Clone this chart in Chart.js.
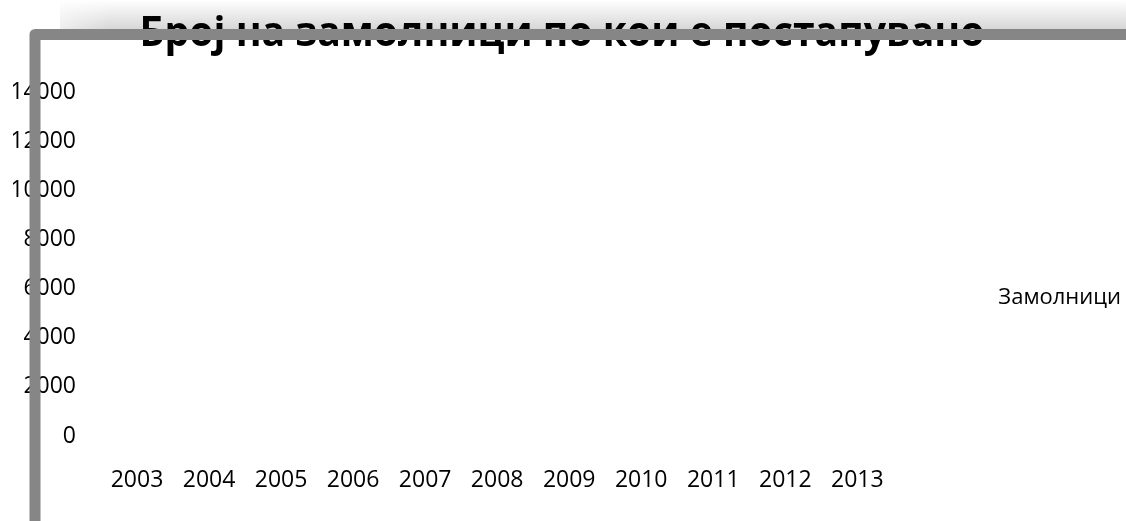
<!DOCTYPE html>
<html>
<head>
<meta charset="utf-8">
<script src="https://cdn.jsdelivr.net/npm/chart.js@4/dist/chart.umd.min.js"></script>
<style>
html,body{margin:0;padding:0;background:#fff;}
#wrap{width:1126px;height:521px;position:relative;}
</style>
</head>
<body>
<div id="wrap"><canvas id="c" width="1126" height="521"></canvas></div>
<script>
// Data (no bars are visible in the reference, so values are unknown / empty)
const TITLE = 'Број на замолници по кои е постапувано';
const SERIES_NAME = 'Замолници';
const categories = ['2003','2004','2005','2006','2007','2008','2009','2010','2011','2012','2013'];
const values = [null,null,null,null,null,null,null,null,null,null,null];
const yTicks = [0,2000,4000,6000,8000,10000,12000,14000];

const FONT = '"Open Sans", "DejaVu Sans", sans-serif';
const GREY = '#868686';
const RIGHT_PAD = 79;
const LEGEND_SHIFT_X = 84;
const LEGEND_SHIFT_Y = -9;

const framePlugin = {
  id: 'frame',
  afterLayout(chart) {
    const l = chart.legend;
    if (l) {
      l.left += LEGEND_SHIFT_X; l.right += LEGEND_SHIFT_X;
      l.top += LEGEND_SHIFT_Y; l.bottom += LEGEND_SHIFT_Y;
    }
  },
  beforeDraw(chart) {
    const ctx = chart.ctx;
    ctx.save();
    const g = ctx.createLinearGradient(0, 0, 0, 29);
    g.addColorStop(0, 'rgba(255,255,255,1)');
    g.addColorStop(1, 'rgba(215,215,215,1)');
    ctx.fillStyle = g;
    ctx.fillRect(60, 0, chart.width - 60, 29);
    const g2 = ctx.createLinearGradient(20, 0, 110, 0);
    g2.addColorStop(0, 'rgba(255,255,255,1)');
    g2.addColorStop(1, 'rgba(255,255,255,0)');
    ctx.fillStyle = g2;
    ctx.fillRect(20, 0, 90, 29);
    ctx.restore();
  },
  afterDraw(chart) {
    const ctx = chart.ctx;
    ctx.save();
    ctx.font = 'bold 42px ' + FONT;
    ctx.fillStyle = '#000';
    ctx.textBaseline = 'alphabetic';
    const w = ctx.measureText(TITLE).width;
    const target = 845;
    ctx.translate(562, 46);
    ctx.scale(target / w, 1);
    ctx.textAlign = 'center';
    ctx.fillText(TITLE, 0, 0);
    ctx.restore();
    ctx.save();
    ctx.strokeStyle = GREY;
    ctx.lineWidth = 11;
    ctx.lineJoin = 'round';
    ctx.beginPath();
    ctx.moveTo(35, chart.height + 10);
    ctx.lineTo(35, 34.5);
    ctx.lineTo(chart.width + 10, 34.5);
    ctx.stroke();
    ctx.restore();
  }
};

new Chart(document.getElementById('c'), {
  type: 'bar',
  data: {
    labels: categories,
    datasets: [{
      label: SERIES_NAME,
      data: values,
      backgroundColor: 'rgba(255,255,255,0)',
      borderWidth: 0
    }]
  },
  options: {
    responsive: false,
    animation: false,
    devicePixelRatio: 1,
    layout: { autoPadding: false, padding: { top: 92, left: 13, right: RIGHT_PAD, bottom: 0 } },
    plugins: {
      title: { display: false },
      tooltip: { enabled: false },
      legend: {
        position: 'right',
        labels: {
          boxWidth: 0,
          boxHeight: 0,
          padding: 10,
          color: '#000',
          font: { family: FONT, size: 22 },
          generateLabels(chart) {
            return chart.data.datasets.map((d, i) => ({
              text: d.label, fillStyle: 'rgba(0,0,0,0)', strokeStyle: 'rgba(0,0,0,0)',
              lineWidth: 0, hidden: false, datasetIndex: i, fontColor: '#000'
            }));
          }
        }
      }
    },
    scales: {
      x: {
        afterFit(a) { a.height = 85; },
        grid: { display: false, drawTicks: false },
        border: { display: false },
        ticks: { color: '#000', padding: 31, maxRotation: 0, font: { family: FONT, size: 23 } }
      },
      y: {
        min: 0, max: 14000,
        afterFit(a) { a.width = 88; },
        afterBuildTicks(axis) { axis.ticks = yTicks.map(v => ({ value: v })); },
        grid: { display: false, drawTicks: false },
        border: { display: false },
        ticks: { color: '#000', padding: 25, font: { family: FONT, size: 23 }, callback: v => String(v) }
      }
    }
  },
  plugins: [framePlugin]
});
</script>
</body>
</html>
